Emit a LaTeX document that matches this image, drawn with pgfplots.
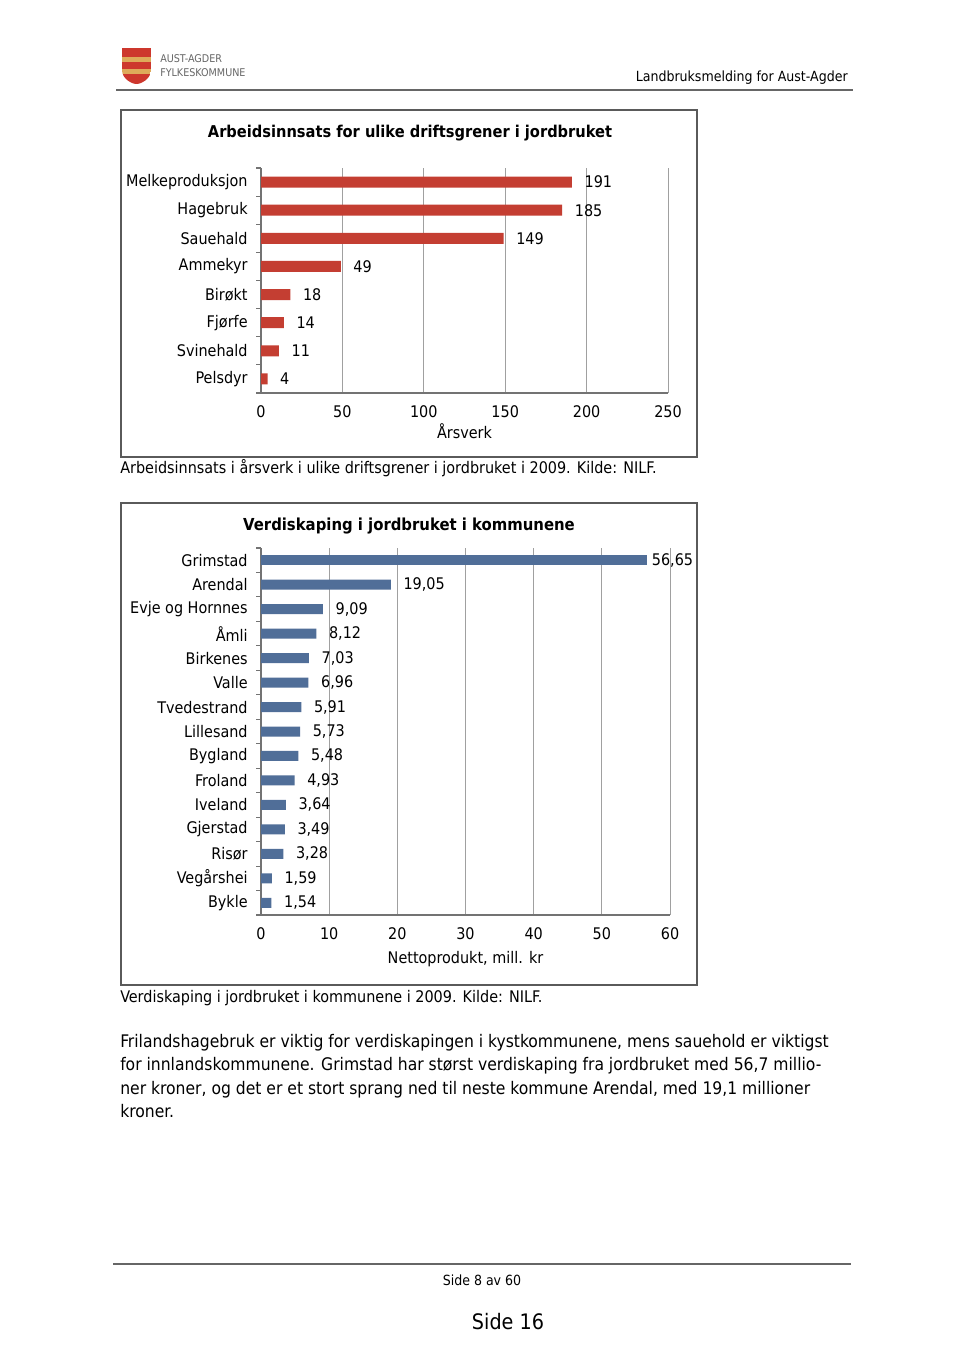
\documentclass[border=0pt]{standalone}
\usepackage{pgfplots}
\pgfplotsset{compat=1.18}
\usepackage{fontspec}
\setmainfont{DejaVu Sans Condensed}
\definecolor{barred}{RGB}{196,62,50}
\definecolor{barblue}{RGB}{80,110,152}
\definecolor{gridc}{RGB}{160,160,160}
\definecolor{framec}{RGB}{90,90,90}
\definecolor{logored}{RGB}{205,55,45}
\definecolor{logoyel}{RGB}{222,170,90}
\newcommand{\chartfont}{\fontsize{12pt}{14pt}\selectfont}
\begin{document}
\begin{tikzpicture}
\begin{scope}[x=0.75pt,y=-0.75pt]
\fill[white] (0,0) rectangle (960,1345);
% logo
\begin{scope}
\clip (122,48) -- (151,48) -- (151,70) .. controls (151,79) and (141,84) .. (136.5,84) .. controls (132,84) and (122,79) .. (122,70) -- cycle;
\fill[logored] (122,48) rectangle (151,57);
\fill[logoyel] (122,57) rectangle (151,62);
\fill[logored] (122,62) rectangle (151,69);
\fill[logoyel] (122,69) rectangle (151,74);
\fill[logored] (122,74) rectangle (151,85);
\end{scope}
\node[anchor=west, text=black!60, inner sep=0pt] at (160,59) {\fontsize{8pt}{9pt}\selectfont AUST-AGDER};
\node[anchor=west, text=black!60, inner sep=0pt] at (160,73) {\fontsize{8pt}{9pt}\selectfont FYLKESKOMMUNE};
\node[anchor=east, inner sep=0pt] at (848,78) {\fontsize{10.5pt}{12pt}\selectfont Landbruksmelding for Aust-Agder};
\draw[black!60, line width=1.5pt] (116,90) -- (853,90);
% frames
\draw[framec, line width=1.1pt] (121,110) rectangle (697,457);
\draw[framec, line width=1.1pt] (121,503) rectangle (697,985);
% titles
\node[inner sep=0pt] at (410,133) {\fontsize{12.2pt}{14pt}\selectfont\bfseries Arbeidsinnsats for ulike driftsgrener i jordbruket};
\node[inner sep=0pt] at (409,526) {\fontsize{12.4pt}{14pt}\selectfont\bfseries Verdiskaping i jordbruket i kommunene};
% captions
\node[anchor=west, inner sep=0pt] at (120,468) {\chartfont Arbeidsinnsats i årsverk i ulike driftsgrener i jordbruket i 2009. Kilde: NILF.};
\node[anchor=west, inner sep=0pt] at (120,998) {\chartfont Verdiskaping i jordbruket i kommunene i 2009. Kilde: NILF.};
% body text
\node[anchor=base west, inner sep=0pt] at (120,1047) {\fontsize{13pt}{15pt}\selectfont Frilandshagebruk er viktig for verdiskapingen i kystkommunene, mens sauehold er viktigst};
\node[anchor=base west, inner sep=0pt] at (120,1070) {\fontsize{13pt}{15pt}\selectfont for innlandskommunene. Grimstad har størst verdiskaping fra jordbruket med 56,7 millio-};
\node[anchor=base west, inner sep=0pt] at (120,1094) {\fontsize{13pt}{15pt}\selectfont ner kroner, og det er et stort sprang ned til neste kommune Arendal, med 19,1 millioner};
\node[anchor=base west, inner sep=0pt] at (120,1117) {\fontsize{13pt}{15pt}\selectfont kroner.};
% footer
\draw[black!60, line width=1.5pt] (113,1264) -- (851,1264);
\node[inner sep=0pt] at (482,1280) {\fontsize{10.5pt}{12pt}\selectfont Side 8 av 60};
\node[inner sep=0pt] at (508,1322) {\fontsize{16pt}{18pt}\selectfont Side 16};
\end{scope}

% chart 1
\begin{axis}[
  at={(195.75pt,-294.75pt)}, anchor=south west,
  scale only axis, width=305.25pt, height=168.75pt,
  xbar, bar width=8.25pt, bar shift=0pt,
  xmin=0, xmax=250, ymin=0.5, ymax=8.5,
  axis x line*=bottom, axis y line*=left,
  axis line style={black!55, line width=0.8pt},
  xtick={0,50,...,250},
  ytick={1,...,8},
  yticklabels={Pelsdyr,Svinehald,Fjørfe,Birøkt,Ammekyr,Sauehald,Hagebruk,Melkeproduksjon},
  minor ytick={0.5,1.5,...,8.5},
  major tick length=0pt, minor tick length=3.75pt, tick align=outside,
  minor tick style={black!55, line width=0.8pt},
  xmajorgrids, grid style={gridc, line width=0.7pt},
  tick label style={font=\chartfont},
  yticklabel style={xshift=-6.5pt},
  xticklabel style={yshift=-6pt},
  /pgf/number format/assume math mode=true,
  xlabel={Årsverk}, xlabel style={font=\chartfont, yshift=2.5pt},
  clip=false,
]
\addplot[fill=barred, draw=none, point meta=x,
  nodes near coords, nodes near coords style={anchor=west, font=\chartfont, xshift=6pt}]
  coordinates {(4,1) (11,2) (14,3) (18,4) (49,5) (149,6) (185,7) (191,8)};
\end{axis}

% chart 2
\begin{axis}[
  at={(195.75pt,-686.25pt)}, anchor=south west,
  scale only axis, width=306.75pt, height=275.25pt,
  xbar, bar width=7.5pt, bar shift=0pt,
  xmin=0, xmax=60, ymin=0.5, ymax=15.5,
  axis x line*=bottom, axis y line*=left,
  axis line style={black!55, line width=0.8pt},
  xtick={0,10,...,60},
  ytick={1,...,15},
  yticklabels={Bykle,Vegårshei,Risør,Gjerstad,Iveland,Froland,Bygland,Lillesand,Tvedestrand,Valle,Birkenes,Åmli,Evje og Hornnes,Arendal,Grimstad},
  minor ytick={0.5,1.5,...,15.5},
  major tick length=0pt, minor tick length=3.75pt, tick align=outside,
  minor tick style={black!55, line width=0.8pt},
  xmajorgrids, grid style={gridc, line width=0.7pt},
  tick label style={font=\chartfont},
  yticklabel style={xshift=-6.5pt},
  xticklabel style={yshift=-6pt},
  /pgf/number format/assume math mode=true,
  xlabel={Nettoprodukt, mill. kr}, xlabel style={font=\chartfont, yshift=-2pt},
  clip=false,
]
\addplot[fill=barblue, draw=none, point meta=x,
  nodes near coords={\pgfmathprintnumber[fixed,fixed zerofill,precision=2,use comma]{\pgfplotspointmeta}},
  nodes near coords style={anchor=west, font=\chartfont, xshift=6pt}]
  coordinates {(1.54,1) (1.59,2) (3.28,3) (3.49,4) (3.64,5) (4.93,6) (5.48,7) (5.73,8) (5.91,9) (6.96,10) (7.03,11) (8.12,12) (9.09,13) (19.05,14)};
\addplot[fill=barblue, draw=none, point meta=x,
  nodes near coords={\pgfmathprintnumber[fixed,fixed zerofill,precision=2,use comma]{\pgfplotspointmeta}},
  nodes near coords style={anchor=west, font=\chartfont, xshift=0pt}]
  coordinates {(56.65,15)};
\end{axis}

\begin{scope}[x=0.75pt,y=-0.75pt]
\pgfresetboundingbox
\path (0,0) rectangle (960,1345);
\end{scope}
\end{tikzpicture}
\end{document}
